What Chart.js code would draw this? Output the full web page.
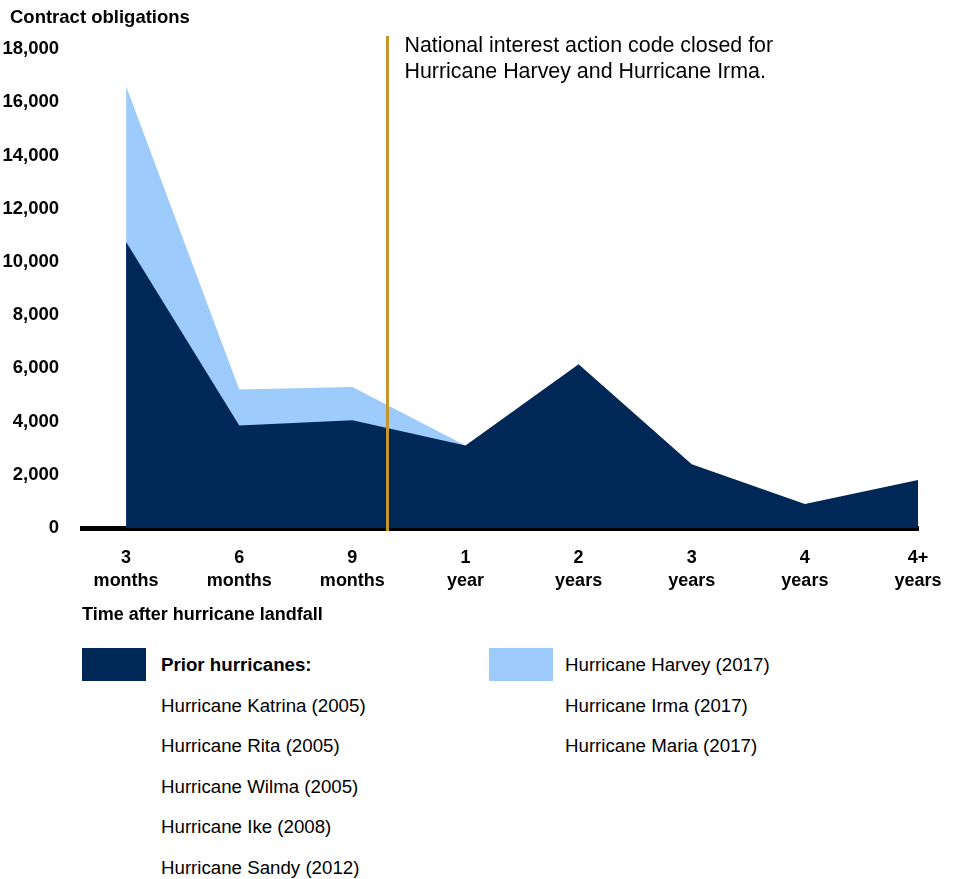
<!DOCTYPE html>
<html>
<head>
<meta charset="utf-8">
<script src="https://cdn.jsdelivr.net/npm/chart.js@4/dist/chart.umd.min.js"></script>
<style>
  body { margin: 0; background: #fff; font-family: "Liberation Sans", Arial, sans-serif; color: #000; }
  #wrap { position: absolute; left: 0; top: 0; width: 956px; height: 640px; }
  .ytitle { position: absolute; left: 10px; top: 6px; font-weight: bold; font-size: 18.5px; }
  .legend { position: absolute; top: 648px; }
  .swatch { position: absolute; left: 0; top: 0; width: 64px; height: 33px; }
  .item { position: absolute; white-space: nowrap; font-size: 18.7px; line-height: 22px; }
</style>
</head>
<body>
<div id="wrap"><canvas id="grafico"></canvas></div>
<div class="ytitle">Contract obligations</div>
<div class="legend" id="leg1" style="left:82px"></div>
<div class="legend" id="leg2" style="left:489px"></div>

<script>
// ===== Dados =====
const categorias = [['3', 'months'], ['6', 'months'], ['9', 'months'], ['1', 'year'],
  ['2', 'years'], ['3', 'years'], ['4', 'years'], ['4+', 'years']];

// furacões anteriores (média)
const anteriores = [10750, 3850, 4050, 3100, 6150, 2400, 900, 1800];

// furacões de 2017 (só até 1 ano)
const furacoes2017 = [16600, 5200, 5300, 3100];

const ticksY = [0, 2000, 4000, 6000, 8000, 10000, 12000, 14000, 16000, 18000];

// posição do código de interesse nacional (entre 9 meses e 1 ano)
const codigoFechado = 2.31;
const notaTexto = ['National interest action code closed for', 'Hurricane Harvey and Hurricane Irma.'];

const legendaAnteriores = ['Hurricane Katrina (2005)', 'Hurricane Rita (2005)', 'Hurricane Wilma (2005)',
  'Hurricane Ike (2008)', 'Hurricane Sandy (2012)'];
const legenda2017 = ['Hurricane Harvey (2017)', 'Hurricane Irma (2017)', 'Hurricane Maria (2017)'];

const AZUL_ESCURO = '#002856';
const AZUL_CLARO = '#9ccbfc';
const DOURADO = '#c4962c';


// ===== Linha vertical + nota =====
const notaPlugin = {
  id: 'nota',
  afterDraw(chart) {
    const { ctx, scales: { x, y } } = chart;
    const px = Math.round(x.getPixelForValue(codigoFechado)) + 0.5;
    ctx.save();
    ctx.strokeStyle = DOURADO;
    ctx.lineWidth = 3;
    ctx.beginPath();
    ctx.moveTo(px, 36);
    ctx.lineTo(px, y.bottom + 3);
    ctx.stroke();

    ctx.fillStyle = '#000';
    ctx.font = '21.4px "Liberation Sans", Arial, sans-serif';
    ctx.textBaseline = 'middle';
    notaTexto.forEach((linha, i) => ctx.fillText(linha, px + 17, 46 + i * 26));
    ctx.restore();
  }
};


// ===== Gráfico =====
const ctx = document.getElementById('grafico');

new Chart(ctx, {
  type: 'line',
  data: {
    datasets: [
      {
        label: 'Prior hurricanes',
        data: anteriores.map((v, i) => ({ x: i, y: v })),
        backgroundColor: AZUL_ESCURO,
        borderWidth: 0,
        pointRadius: 0,
        fill: 'origin',
        tension: 0
      },
      {
        label: '2017 hurricanes',
        data: furacoes2017.map((v, i) => ({ x: i, y: v })),
        backgroundColor: AZUL_CLARO,
        borderWidth: 0,
        pointRadius: 0,
        fill: 'origin',
        tension: 0
      }
    ]
  },
  options: {
    responsive: true,
    maintainAspectRatio: false,
    animation: false,
    layout: { padding: { left: 0, top: 49, right: 38, bottom: 0 } },
    plugins: {
      legend: { display: false },
      tooltip: { enabled: false }
    },
    scales: {
      x: {
        type: 'linear',
        min: -0.39,
        max: 7,
        z: 1,
        afterFit: s => { s.height = 112; },
        afterBuildTicks: s => { s.ticks = categorias.map((_, i) => ({ value: i })); },
        grid: { display: false },
        border: { display: true, color: '#000', width: 5 },
        ticks: {
          autoSkip: false,
          maxRotation: 0,
          padding: 11,
          color: '#000',
          font: { family: '"Liberation Sans", Arial, sans-serif', size: 18, weight: 'bold', lineHeight: 1.25 },
          callback: v => categorias[v]
        },
        title: {
          display: true,
          align: 'start',
          text: 'Time after hurricane landfall',
          color: '#000',
          padding: { top: 0, bottom: 14 },
          font: { family: '"Liberation Sans", Arial, sans-serif', size: 18, weight: 'bold' }
        }
      },
      y: {
        min: 0,
        max: 18000,
        afterFit: s => { s.width = 82; },
        afterBuildTicks: s => { s.ticks = ticksY.map(v => ({ value: v })); },
        grid: { display: false },
        border: { display: false },
        ticks: {
          padding: 15,
          color: '#000',
          font: { family: '"Liberation Sans", Arial, sans-serif', size: 18.5, weight: 'bold' },
          callback: v => v.toLocaleString('en-US')
        }
      }
    }
  },
  plugins: [notaPlugin]
});


// ===== Legenda =====
function montarLegenda(id, cor, titulo, itens) {
  const el = document.getElementById(id);
  let html = `<div class="swatch" style="background:${cor}"></div>`;
  let linhas = titulo ? [titulo, ...itens] : itens;
  linhas.forEach((txt, i) => {
    const negrito = titulo && i === 0 ? 'font-weight:bold;' : '';
    html += `<div class="item" style="left:${titulo ? 79 : 76}px;top:${6 + i * 40.5}px;${negrito}">${txt}</div>`;
  });
  el.innerHTML = html;
}

montarLegenda('leg1', AZUL_ESCURO, 'Prior hurricanes:', legendaAnteriores);
montarLegenda('leg2', AZUL_CLARO, null, legenda2017);
</script>
</body>
</html>
